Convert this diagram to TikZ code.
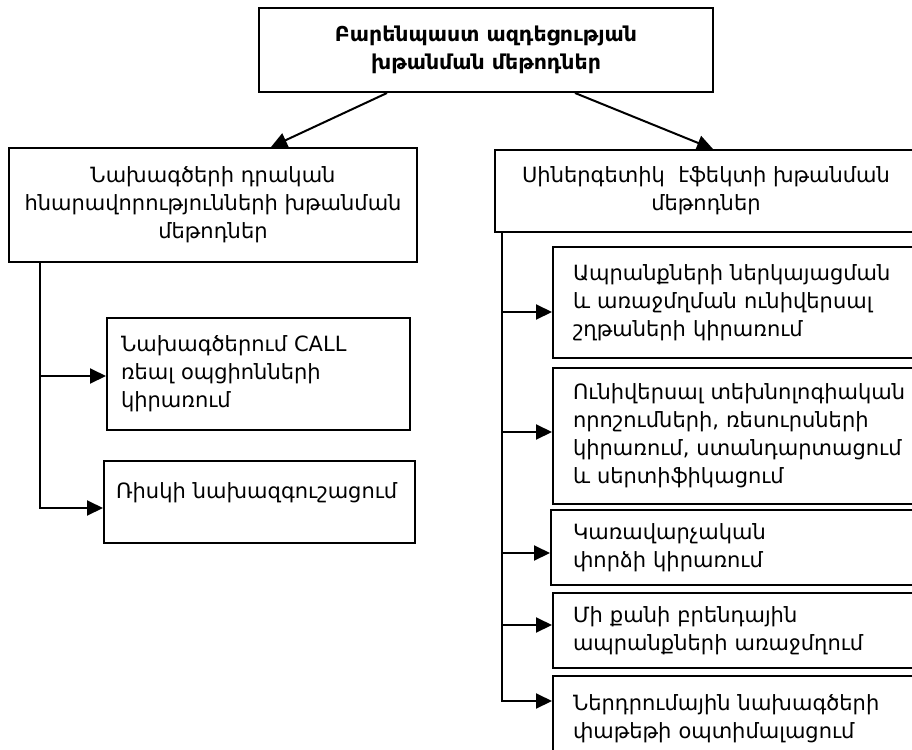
\documentclass[tikz,border=0pt]{standalone}
\usepackage{fontspec}
\setmainfont{DejaVu Sans}
\usetikzlibrary{arrows.meta}
\begin{document}
\begin{tikzpicture}[x=1pt,y=-1pt,
  box/.style={draw, line width=2pt, font=\fontsize{21}{28}\selectfont, inner ysep=0pt},
  cbox/.style={box, align=center},
  lbox/.style={box, align=left, anchor=north west},
  arr/.style={line width=2pt, -{Triangle[length=16pt,width=15pt]}}]
\useasboundingbox (0,0) rectangle (912,749);
\node[cbox, minimum width=454pt, minimum height=84pt, font=\fontsize{20.5}{28}\selectfont\bfseries] (T) at (486,50) {Բարենպաստ ազդեցության\\խթանման մեթոդներ};
\node[cbox, minimum width=408pt, minimum height=114pt] (L) at (213,205) {Նախագծերի դրական\\հնարավորությունների խթանման\\մեթոդներ};
\node[cbox, minimum width=422pt, minimum height=82pt] (S) at (706,191) {Սիներգետիկ\ \ էֆեկտի խթանման\\մեթոդներ};
\node[lbox, inner xsep=14pt, text width=275pt, minimum height=112pt] (b1) at (106,317) {Նախագծերում CALL\\ռեալ օպցիոնների\\կիրառում};
\node[lbox, inner xsep=12pt, text width=287pt, text height=37pt, text depth=45pt] (b2) at (103,460) {Ռիսկի նախազգուշացում};
\node[lbox, inner xsep=20pt, text width=400pt, minimum height=111pt] (A) at (552,246) {Ապրանքների ներկայացման\\և առաջմղման ունիվերսալ\\շղթաների կիրառում};
\node[lbox, inner xsep=20pt, text width=400pt, minimum height=136pt] (B) at (552,367) {Ունիվերսալ տեխնոլոգիական\\որոշումների, ռեսուրսների\\կիրառում, ստանդարտացում\\և սերտիֆիկացում};
\node[lbox, inner xsep=22pt, text width=400pt, minimum height=75pt] (C) at (550,509) {Կառավարչական\\փորձի կիրառում};
\node[lbox, inner xsep=20pt, text width=400pt, minimum height=75pt] (D) at (552,592) {Մի քանի բրենդային\\ապրանքների առաջմղում};
\node[lbox, inner xsep=20pt, text width=400pt, minimum height=86pt] (E) at (552,675) {Ներդրումային նախագծերի\\փաթեթի օպտիմալացում};
% top arrows
\draw[arr] ([xshift=-99pt]T.south) -- ([xshift=58pt]L.north);
\draw[arr] ([xshift=89pt]T.south) -- ([xshift=7pt]S.north);
% left trunk
\coordinate (lt) at ([xshift=32pt]L.south west);
\coordinate (p1) at ([yshift=-59pt]b1.north west);
\coordinate (p2) at ([yshift=-48pt]b2.north west);
\draw[arr] (lt |- p1) -- (p1);
\draw[arr] (lt) |- (p2);
% right trunk
\coordinate (rt) at ([xshift=8pt]S.south west);
\coordinate (qa) at ([yshift=-66pt]A.north west);
\coordinate (qb) at ([yshift=-65pt]B.north west);
\coordinate (qc) at ([yshift=-44pt]C.north west);
\coordinate (qd) at ([yshift=-33pt]D.north west);
\coordinate (qe) at ([yshift=-26pt]E.north west);
\draw[arr] (rt |- qa) -- (qa);
\draw[arr] (rt |- qb) -- (qb);
\draw[arr] (rt |- qc) -- (qc);
\draw[arr] (rt |- qd) -- (qd);
\draw[arr] (rt) |- (qe);
\end{tikzpicture}
\end{document}
